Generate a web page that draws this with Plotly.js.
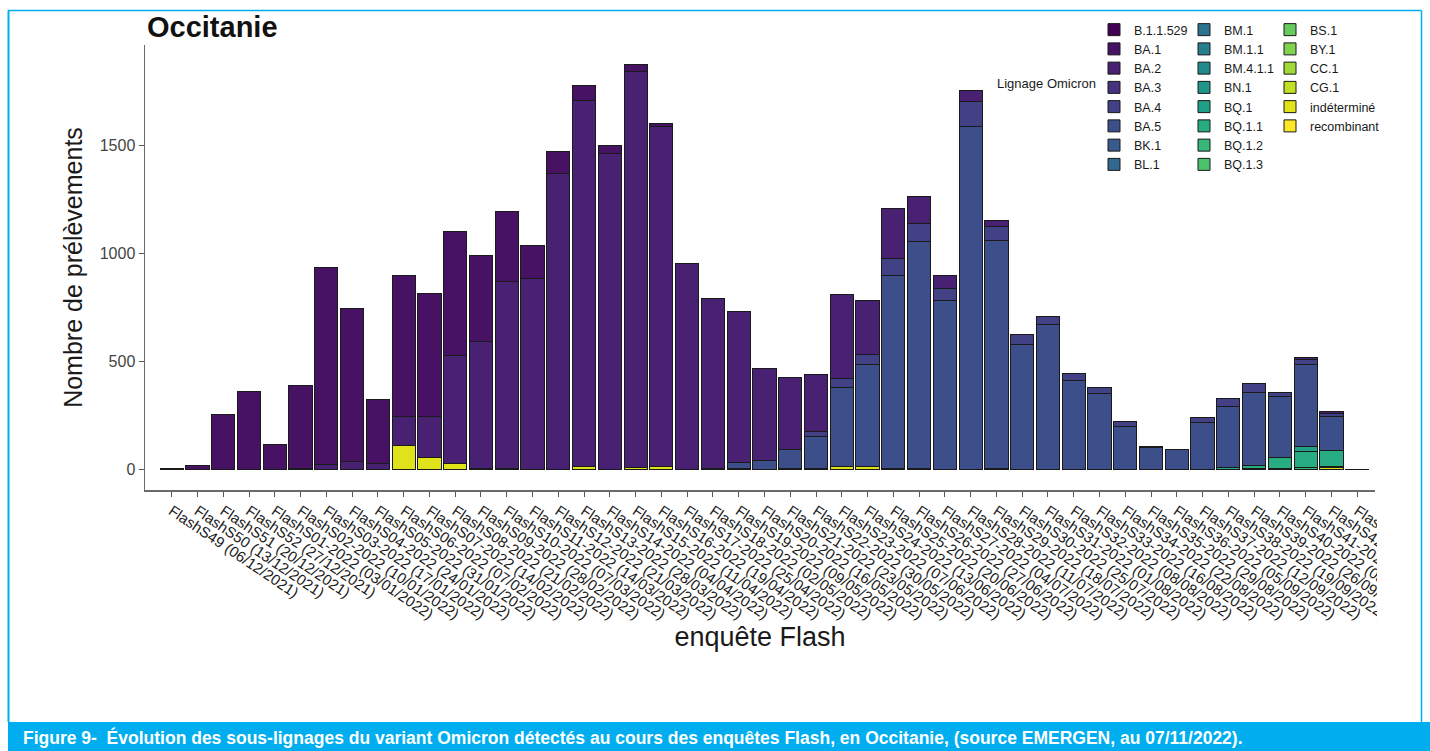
<!DOCTYPE html>
<html>
<head>
<meta charset="utf-8">
<script src="https://cdn.plot.ly/plotly-3.0.1.min.js"></script>
<style>
  html, body { margin: 0; padding: 0; background: #ffffff; overflow: hidden; }
  #chart { width: 1430px; height: 751px; }
</style>
</head>
<body>
<div id="chart"></div>
<script>
// ---------- DATA ----------
const categories = [
  'FlashS49 (06/12/2021)', 'FlashS50 (13/12/2021)', 'FlashS51 (20/12/2021)', 'FlashS52 (27/12/2021)',
  'FlashS01-2022 (03/01/2022)', 'FlashS02-2022 (10/01/2022)', 'FlashS03-2022 (17/01/2022)', 'FlashS04-2022 (24/01/2022)',
  'FlashS05-2022 (31/01/2022)', 'FlashS06-2022 (07/02/2022)', 'FlashS07-2022 (14/02/2022)', 'FlashS08-2022 (21/02/2022)',
  'FlashS09-2022 (28/02/2022)', 'FlashS10-2022 (07/03/2022)', 'FlashS11-2022 (14/03/2022)', 'FlashS12-2022 (21/03/2022)',
  'FlashS13-2022 (28/03/2022)', 'FlashS14-2022 (04/04/2022)', 'FlashS15-2022 (11/04/2022)', 'FlashS16-2022 (19/04/2022)',
  'FlashS17-2022 (25/04/2022)', 'FlashS18-2022 (02/05/2022)', 'FlashS19-2022 (09/05/2022)', 'FlashS20-2022 (16/05/2022)',
  'FlashS21-2022 (23/05/2022)', 'FlashS22-2022 (30/05/2022)', 'FlashS23-2022 (07/06/2022)', 'FlashS24-2022 (13/06/2022)',
  'FlashS25-2022 (20/06/2022)', 'FlashS26-2022 (27/06/2022)', 'FlashS27-2022 (04/07/2022)', 'FlashS28-2022 (11/07/2022)',
  'FlashS29-2022 (18/07/2022)', 'FlashS30-2022 (25/07/2022)', 'FlashS31-2022 (01/08/2022)', 'FlashS32-2022 (08/08/2022)',
  'FlashS33-2022 (16/08/2022)', 'FlashS34-2022 (22/08/2022)', 'FlashS35-2022 (29/08/2022)', 'FlashS36-2022 (05/09/2022)',
  'FlashS37-2022 (12/09/2022)', 'FlashS38-2022 (19/09/2022)', 'FlashS39-2022 (26/09/2022)', 'FlashS40-2022 (03/10/2022)',
  'FlashS41-2022 (10/10/2022)', 'FlashS42-2022 (17/10/2022)', 'FlashS43-2022 (24/10/2022)'
];

const lineages = ['B.1.1.529', 'BA.1', 'BA.2', 'BA.3', 'BA.4', 'BA.5', 'BK.1', 'BL.1',
                  'BM.1', 'BM.1.1', 'BM.4.1.1', 'BN.1', 'BQ.1', 'BQ.1.1', 'BQ.1.2', 'BQ.1.3',
                  'BS.1', 'BY.1', 'CC.1', 'CG.1', 'indéterminé', 'recombinant'];

const lineageColors = ['#440154', '#471164', '#482173', '#46327E', '#424186', '#3C4F8A', '#375B8C', '#31688E',
                       '#2C738E', '#277F8E', '#238A8D', '#20968B', '#20A187', '#27AD81', '#36B878', '#4BC26C',
                       '#65CB5E', '#80D34D', '#A0DA39', '#C0DF25', '#E0E319', '#FDE725'];

// number of samples per lineage, one value per Flash survey (same order as categories)
const B_1_1_529 = [0,0,0,0,0,0,0,0,0,0,0,0,0,0,0,0,0,0,0,0,0,0,0,0,0,0,0,0,0,0,0,0,0,0,0,0,0,0,0,0,0,0,0,0,0,0,0];
const BA_1 = [4,20,256,361,116,381,912,705,298,653,570,573,399,325,153,102,70,39,32,14,0,0,0,0,0,0,0,0,0,0,0,0,0,0,0,0,0,0,0,0,0,0,0,0,0,0,0];
const BA_2 = [0,0,0,0,0,8,23,39,28,132,186,499,584,864,885,1369,1693,1460,1831,1572,954,784,696,424,332,267,387,248,233,122,61,51,28,0,0,0,0,0,0,0,0,0,0,0,13,11,0];
const BA_3 = [0,0,0,0,0,0,0,0,0,0,0,0,0,0,0,0,0,0,0,0,0,0,0,0,0,0,0,0,0,0,0,0,0,0,0,0,0,0,0,0,0,0,0,0,0,0,0];
const BA_4 = [0,0,0,0,0,0,0,0,0,0,0,0,0,0,0,0,0,0,0,0,0,0,0,0,0,23,43,50,79,84,56,116,65,48,40,35,27,23,7,0,25,36,42,20,20,12,0];
const BA_5 = [0,0,0,0,0,0,0,0,0,0,0,0,0,0,0,0,0,0,0,0,0,0,30,43,89,147,365,468,894,1048,778,1587,1053,577,670,411,353,198,101,94,217,282,338,279,380,161,2];
const BK_1 = [0,0,0,0,0,0,0,0,0,0,0,0,0,0,0,0,0,0,0,0,0,0,0,0,0,0,0,0,0,0,0,0,0,0,0,0,0,0,0,0,0,0,0,0,0,0,0];
const BL_1 = [0,0,0,0,0,0,0,0,0,0,0,0,0,0,0,0,0,0,0,0,0,0,0,0,0,0,0,0,0,0,0,0,0,0,0,0,0,0,0,0,0,0,0,0,0,0,0];
const BM_1 = [0,0,0,0,0,0,0,0,0,0,0,0,0,0,0,0,0,0,0,0,0,0,0,0,0,0,0,0,0,0,0,0,0,0,0,0,0,0,0,0,0,0,0,0,0,0,0];
const BM_1_1 = [0,0,0,0,0,0,0,0,0,0,0,0,0,0,0,0,0,0,0,0,0,0,0,0,0,0,0,0,0,0,0,0,0,0,0,0,0,0,0,0,0,0,0,0,0,0,0];
const BM_4_1_1 = [0,0,0,0,0,0,0,0,0,0,0,0,0,0,0,0,0,0,0,0,0,0,0,0,0,0,0,0,0,0,0,0,0,0,0,0,0,0,0,0,0,0,0,0,0,0,0];
const BN_1 = [0,0,0,0,0,0,0,0,0,0,0,0,0,0,0,0,0,0,0,0,0,0,0,0,0,0,0,0,0,0,0,0,0,0,0,0,0,0,0,0,0,0,0,0,0,0,0];
const BQ_1 = [0,0,0,0,0,0,0,0,0,0,0,0,0,0,0,0,0,0,0,0,0,0,0,0,0,0,0,0,0,0,0,0,0,0,0,0,0,0,0,0,0,0,0,0,23,0,0];
const BQ_1_1 = [0,0,0,0,0,0,0,0,0,0,0,0,0,0,0,0,0,0,0,0,0,0,0,0,0,0,0,0,0,0,0,0,0,0,0,0,0,0,0,0,0,12,14,52,73,72,0];
const BQ_1_2 = [0,0,0,0,0,0,0,0,0,0,0,0,0,0,0,0,0,0,0,0,0,0,0,0,0,0,0,0,0,0,0,0,0,0,0,0,0,0,0,0,0,0,0,7,12,6,0];
const BQ_1_3 = [0,0,0,0,0,0,0,0,0,0,0,0,0,0,0,0,0,0,0,0,0,0,0,0,0,0,0,0,0,0,0,0,0,0,0,0,0,0,0,0,0,0,0,0,0,0,0];
const BS_1 = [0,0,0,0,0,0,0,0,0,0,0,0,0,0,0,0,0,0,0,0,0,0,0,0,0,0,0,0,0,0,0,0,0,0,0,0,0,0,0,0,0,0,0,0,0,0,0];
const BY_1 = [0,0,0,0,0,0,0,0,0,0,0,0,0,0,0,0,0,0,0,0,0,0,0,0,0,0,0,0,0,0,0,0,0,0,0,0,0,0,0,0,0,0,0,0,0,0,0];
const CC_1 = [0,0,0,0,0,0,0,0,0,0,0,0,0,0,0,0,0,0,0,0,0,0,0,0,0,0,0,0,0,0,0,0,0,0,0,0,0,0,0,0,0,0,0,0,0,0,0];
const CG_1 = [0,0,0,0,0,0,0,0,0,0,0,0,0,0,0,0,0,0,0,0,0,0,0,0,0,0,0,0,0,0,0,0,0,0,0,0,0,0,0,0,0,0,0,0,0,0,0];
const indetermine = [0,0,0,0,0,0,0,0,0,113,59,31,8,7,0,0,15,0,12,15,0,7,5,0,5,5,15,17,4,8,3,0,8,0,0,0,0,0,0,0,0,0,6,0,0,9,0];
const recombinant = [0,0,0,0,0,0,0,0,0,0,0,0,0,0,0,0,0,0,0,0,0,0,0,0,0,0,0,0,0,0,0,0,0,0,0,0,0,0,0,0,0,0,0,0,0,0,0];

const yTickVals = [0, 500, 1000, 1500];

const chartTitle = 'Occitanie';
const yTitle = 'Nombre de prélèvements';
const xTitle = 'enquête Flash';
const legendTitle = 'Lignage Omicron';
const caption = 'Figure 9-  Évolution des sous-lignages du variant Omicron détectés au cours des enquêtes Flash, en Occitanie, (source EMERGEN, au 07/11/2022).';

// ---------- BUILD ----------
const series = [B_1_1_529, BA_1, BA_2, BA_3, BA_4, BA_5, BK_1, BL_1,
                BM_1, BM_1_1, BM_4_1_1, BN_1, BQ_1, BQ_1_1, BQ_1_2, BQ_1_3,
                BS_1, BY_1, CC_1, CG_1, indetermine, recombinant];

const FONT = 'Liberation Sans, Arial, Helvetica, sans-serif';
const W = 1430, H = 751;
const px = v => v / W;          // horizontal pixel -> paper
const py = v => 1 - v / H;      // vertical pixel (from top) -> paper

const traces = [];
// ggplot stacks the first factor level on top: add traces from last level (bottom) to first (top)
for (let i = lineages.length - 1; i >= 0; i--) {
  traces.push({
    type: 'bar',
    name: lineages[i],
    x: categories,
    y: series[i].map(v => (v === 0 ? null : v)),
    marker: { color: lineageColors[i], line: { color: '#1a1a1a', width: 1 } },
    legend: i < 8 ? 'legend' : (i < 16 ? 'legend2' : 'legend3'),
    legendrank: i + 1,
    hovertemplate: '%{x}<br>' + lineages[i] + ' : %{y}<extra></extra>'
  });
}

const legendBase = {
  xanchor: 'left', yanchor: 'top',
  orientation: 'v',
  traceorder: 'normal',
  bgcolor: 'rgba(0,0,0,0)',
  borderwidth: 0,
  itemwidth: 30,
  tracegroupgap: 0,
  font: { family: FONT, size: 12.5, color: '#1a1a1a' }
};

const layout = {
  width: W, height: H,
  margin: { l: 0, r: 0, t: 0, b: 0, pad: 0 },
  paper_bgcolor: '#ffffff',
  plot_bgcolor: '#ffffff',
  barmode: 'stack',
  bargap: 0.1,
  font: { family: FONT, color: '#1a1a1a' },
  title: {
    text: '<b>' + chartTitle + '</b>',
    font: { family: FONT, size: 29, color: '#111111' },
    xref: 'paper', yref: 'paper',
    x: px(147), xanchor: 'left',
    y: py(27), yanchor: 'middle'
  },
  xaxis: {
    domain: [px(145), px(1375)],
    type: 'category',
    range: [-1.036, 46.69],
    tickangle: 34,
    tickfont: { family: FONT, size: 15, color: '#1a1a1a' },
    ticks: 'outside', ticklen: 5, tickwidth: 1, tickcolor: '#555555',
    showline: true, linecolor: '#6a6a6a', linewidth: 1.5,
    showgrid: false, zeroline: false,
    title: { text: xTitle, font: { family: FONT, size: 27, color: '#1a1a1a' }, standoff: 0 }
  },
  yaxis: {
    domain: [py(490), py(45)],
    range: [-93.5, 1963.5],
    tickmode: 'array', tickvals: yTickVals, ticktext: yTickVals.map(String),
    tickfont: { family: FONT, size: 16, color: '#444444' },
    ticks: 'outside', ticklen: 5, tickwidth: 1, tickcolor: '#555555',
    showline: true, linecolor: '#6a6a6a', linewidth: 1.5,
    showgrid: false, zeroline: false,
    title: { text: yTitle, font: { family: FONT, size: 25, color: '#1a1a1a' }, standoff: 10 }
  },
  legend:  Object.assign({}, legendBase, { x: px(1094), y: py(15) }),
  legend2: Object.assign({}, legendBase, { x: px(1184), y: py(15) }),
  legend3: Object.assign({}, legendBase, { x: px(1270), y: py(15) }),
  annotations: [
    {
      text: legendTitle, xref: 'paper', yref: 'paper',
      x: px(995), y: py(84), xanchor: 'left', yanchor: 'middle',
      showarrow: false, font: { family: FONT, size: 13, color: '#1a1a1a' }
    },
    {
      text: '<b>' + caption + '</b>', xref: 'paper', yref: 'paper',
      x: px(21), y: py(737), xanchor: 'left', yanchor: 'middle',
      showarrow: false, font: { family: FONT, size: 17.5, color: '#ffffff' }
    }
  ],
  shapes: [
    // crop of the chart image at its right edge (tick labels run past it)
    { type: 'rect', xref: 'paper', yref: 'paper', layer: 'above',
      x0: px(1377), x1: 1, y0: py(721), y1: py(492),
      fillcolor: '#ffffff', line: { width: 0 } },
    // figure frame
    { type: 'line', xref: 'paper', yref: 'paper', layer: 'above',
      x0: px(8.5), x1: px(8.5), y0: py(722), y1: py(10.5), line: { color: '#00aeef', width: 2 } },
    { type: 'line', xref: 'paper', yref: 'paper', layer: 'above',
      x0: px(8), x1: px(1421.5), y0: py(10.5), y1: py(10.5), line: { color: '#00aeef', width: 1.5 } },
    { type: 'line', xref: 'paper', yref: 'paper', layer: 'above',
      x0: px(1421.5), x1: px(1421.5), y0: py(722), y1: py(10.5), line: { color: '#00aeef', width: 1.5 } },
    // caption band
    { type: 'rect', xref: 'paper', yref: 'paper', layer: 'below',
      x0: px(8), x1: 1, y0: 0, y1: py(722),
      fillcolor: '#00aeef', line: { width: 0 } }
  ]
};

Plotly.newPlot('chart', traces, layout, { displayModeBar: false, staticPlot: true });
</script>
</body>
</html>
